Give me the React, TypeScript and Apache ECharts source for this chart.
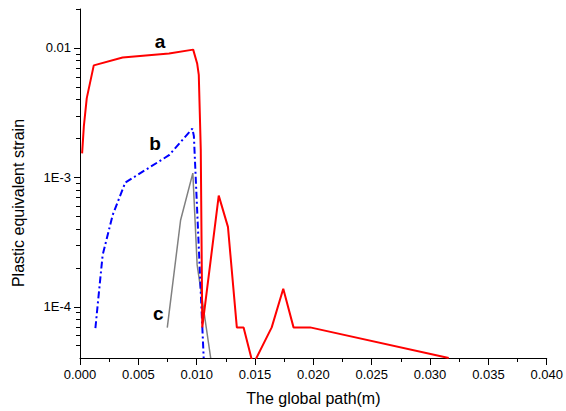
import React, { useEffect, useRef } from "react";
import * as echarts from "echarts";

// Curve a (red, solid)
const aX = [0.00018, 0.00033, 0.00058, 0.00118, 0.00365, 0.00763, 0.0097, 0.01004, 0.01018, 0.01035, 0.01048, 0.01189, 0.01268, 0.01344, 0.01402, 0.01483, 0.01643, 0.01742, 0.0183, 0.01972, 0.0316];
const aY = [1.53e-3, 2.48e-3, 4.09e-3, 7.33e-3, 8.44e-3, 9.06e-3, 9.7e-3, 7.59e-3, 6.18e-3, 1.64e-3, 6.9e-5, 7.21e-4, 4.13e-4, 6.9e-5, 6.9e-5, 3.55e-5, 6.9e-5, 1.372e-4, 6.9e-5, 6.9e-5, 4.0e-5];

// Curve b (blue, dash-dot)
const bX = [0.00132, 0.00152, 0.00194, 0.0028, 0.00388, 0.00763, 0.00963, 0.00976, 0.0106];
const bY = [6.8e-5, 1.04e-4, 2.5e-4, 5.1e-4, 9.1e-4, 1.48e-3, 2.38e-3, 2.08e-3, 4.0e-5];

// Curve c (grey, solid)
const cX = [0.00748, 0.00862, 0.00967, 0.01004, 0.0112];
const cY = [6.87e-5, 4.65e-4, 1.076e-3, 2.1e-4, 4.0e-5];

// Curve labels
const labelNames = ["a", "b", "c"];
const labelX = [0.00686, 0.00643, 0.0067];
const labelY = [0.01125, 1.816e-3, 8.89e-5];

// Axis ranges and ticks
const xMin = 0;
const xMax = 0.04;
const xStep = 0.005;
const yMin = 4e-5;
const yMax = 0.02;
const yMajorTicks = [1e-4, 1e-3, 1e-2];
const yMinorTicks = [
  5e-5, 6e-5, 7e-5, 8e-5, 9e-5,
  2e-4, 3e-4, 4e-4, 5e-4, 6e-4, 7e-4, 8e-4, 9e-4,
  2e-3, 3e-3, 4e-3, 5e-3, 6e-3, 7e-3, 8e-3, 9e-3,
  2e-2,
];

const FONT = "'Liberation Sans', Arial, sans-serif";

function zip(xs: number[], ys: number[]) {
  return xs.map((x, i) => [x, ys[i]]);
}

function yLabel(v: number): string {
  const e = Math.log10(v);
  const r = Math.round(e);
  if (Math.abs(e - r) > 1e-6) return "";
  if (r === -2) return "0.01";
  if (r < -4 || r > -2) return "";
  return "1E" + r;
}

export default function App() {
  const ref = useRef<HTMLDivElement>(null);
  useEffect(() => {
    if (!ref.current) return;
    const chart = echarts.init(ref.current, null, { renderer: "svg" });
    const tickData = [
      ...yMajorTicks.map((v) => [0, v, 6]),
      ...yMinorTicks.map((v) => [0, v, 4]),
    ];
    chart.setOption({
      animation: false,
      backgroundColor: "#ffffff",
      grid: { left: 80, right: 16, top: 9, bottom: 51, containLabel: false },
      xAxis: {
        type: "value",
        min: xMin,
        max: xMax,
        interval: xStep,
        name: "The global path(m)",
        nameLocation: "middle",
        nameGap: 32,
        nameTextStyle: { fontSize: 16, color: "#000", fontFamily: FONT },
        axisLine: { show: true, onZero: false, lineStyle: { color: "#000", width: 1 } },
        axisTick: { show: true, length: 7, lineStyle: { color: "#000" } },
        minorTick: { show: true, splitNumber: 2, length: 4, lineStyle: { color: "#000" } },
        splitLine: { show: false },
        axisLabel: {
          fontSize: 13,
          color: "#000",
          fontFamily: FONT,
          margin: 10,
          formatter: (v: number) => v.toFixed(3),
        },
      },
      yAxis: {
        type: "log",
        logBase: 10,
        min: yMin,
        max: yMax,
        axisLine: { show: true, lineStyle: { color: "#000", width: 1 } },
        axisTick: { show: false },
        splitLine: { show: false },
        axisLabel: {
          fontSize: 13,
          color: "#000",
          fontFamily: FONT,
          margin: 9,
          showMinLabel: false,
          showMaxLabel: false,
          formatter: (v: number) => yLabel(v),
        },
      },
      graphic: [
        {
          type: "text",
          x: 18,
          y: 203,
          rotation: Math.PI / 2,
          style: {
            text: "Plastic equivalent strain",
            fontSize: 16,
            fontFamily: FONT,
            fill: "#000",
            textAlign: "center",
            textVerticalAlign: "middle",
          },
        },
      ],
      series: [
        {
          type: "line",
          data: zip(aX, aY),
          showSymbol: false,
          symbol: "none",
          lineStyle: { color: "#ff0000", width: 2 },
          clip: true,
          z: 3,
        },
        {
          type: "line",
          data: zip(bX, bY),
          showSymbol: false,
          symbol: "none",
          lineStyle: { color: "#0000ff", width: 2, type: [7, 3, 2, 3] },
          clip: true,
          z: 2,
        },
        {
          type: "line",
          data: zip(cX, cY),
          showSymbol: false,
          symbol: "none",
          lineStyle: { color: "#808080", width: 1.5 },
          clip: true,
          z: 1,
        },
        {
          type: "custom",
          clip: false,
          silent: true,
          data: labelNames.map((n, i) => [labelX[i], labelY[i], i]),
          renderItem: (_params: any, api: any) => {
            const p = api.coord([api.value(0), api.value(1)]);
            const idx = api.value(2);
            return {
              type: "text",
              x: p[0],
              y: p[1],
              style: {
                text: labelNames[idx],
                fontSize: 19,
                fontWeight: "bold",
                fontFamily: FONT,
                fill: "#000",
                textAlign: "center",
                textVerticalAlign: "middle",
              },
            };
          },
          z: 5,
        },
        {
          type: "custom",
          clip: false,
          data: tickData,
          renderItem: (_params: any, api: any) => {
            const v = api.value(1);
            const len = api.value(2);
            const p = api.coord([0, v]);
            const y = Math.round(p[1]) + 0.5;
            return {
              type: "line",
              shape: { x1: p[0] - len, y1: y, x2: p[0], y2: y },
              style: { stroke: "#000", lineWidth: 1 },
            };
          },
          silent: true,
          z: 6,
        },
      ],
    });
    return () => chart.dispose();
  }, []);
  return (
    <div
      ref={ref}
      style={{ position: "fixed", left: 0, top: 0, width: 566, height: 411, background: "#fff" }}
    />
  );
}
